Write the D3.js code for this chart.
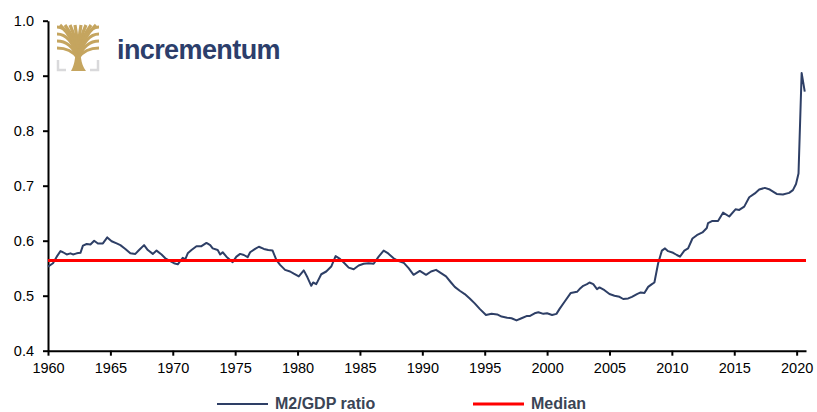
<!DOCTYPE html>
<html>
<head>
<meta charset="utf-8">
<script src="https://cdn.jsdelivr.net/npm/d3@7/dist/d3.min.js"></script>
<style>
  body { margin: 0; background: #fff; }
  svg text { font-family: "Liberation Sans", Arial, sans-serif; }
</style>
</head>
<body>
<script>
// Data (decimal years)
const dates = [
  1960.0, 1960.4, 1960.7, 1961.0, 1961.2, 1961.5, 1961.8, 1962.0, 1962.3, 1962.6,
  1962.8, 1963.1, 1963.4, 1963.7, 1964.0, 1964.4, 1964.75, 1965.1, 1965.5, 1965.8,
  1966.2, 1966.6, 1967.0, 1967.3, 1967.7, 1968.0, 1968.4, 1968.7, 1969.1, 1969.4,
  1969.8, 1970.1, 1970.4, 1970.8, 1971.0, 1971.2, 1971.5, 1971.9, 1972.3, 1972.7,
  1973.0, 1973.2, 1973.6, 1973.8, 1974.0, 1974.3, 1974.8, 1975.1, 1975.4, 1975.7,
  1976.0, 1976.2, 1976.6, 1976.9, 1977.3, 1977.65, 1978.0, 1978.3, 1978.6, 1979.0,
  1979.4, 1979.7, 1980.1, 1980.5, 1980.8, 1981.1, 1981.25, 1981.5, 1981.9, 1982.3,
  1982.7, 1983.05, 1983.4, 1983.8, 1984.1, 1984.5, 1984.9, 1985.3, 1985.7, 1986.1,
  1986.5, 1986.9, 1987.2, 1987.7, 1988.1, 1988.5, 1988.9, 1989.3, 1989.8, 1990.3,
  1990.7, 1991.1, 1991.5, 1991.9, 1992.3, 1992.6, 1993.0, 1993.4, 1993.8, 1994.2,
  1994.6, 1995.1, 1995.55, 1996.0, 1996.35, 1996.8, 1997.15, 1997.55, 1997.95, 1998.35,
  1998.6, 1999.0, 1999.3, 1999.7, 2000.0, 2000.4, 2000.75, 2001.0, 2001.4, 2001.9,
  2002.4, 2002.6, 2002.9, 2003.2, 2003.4, 2003.7, 2004.0, 2004.2, 2004.6, 2005.0,
  2005.4, 2005.8, 2006.1, 2006.5, 2006.8, 2007.2, 2007.5, 2007.8, 2008.1, 2008.4,
  2008.6, 2008.9, 2009.2, 2009.45, 2009.7, 2010.1, 2010.4, 2010.65, 2011.0, 2011.3,
  2011.65, 2012.0, 2012.45, 2012.8, 2012.9, 2013.25, 2013.7, 2014.1, 2014.6, 2015.1,
  2015.4, 2015.8, 2016.2, 2016.65, 2017.0, 2017.45, 2017.85, 2018.4, 2018.9, 2019.4,
  2019.7, 2019.95, 2020.15, 2020.4, 2020.65
];

const m2gdp = [
  0.553, 0.559, 0.571, 0.581, 0.579, 0.575, 0.577, 0.575, 0.577, 0.578,
  0.591, 0.594, 0.593, 0.600, 0.595, 0.595, 0.606, 0.599, 0.595, 0.592,
  0.585, 0.577, 0.576, 0.583, 0.592, 0.583, 0.576, 0.582, 0.575, 0.568,
  0.563, 0.559, 0.557, 0.569, 0.566, 0.577, 0.583, 0.590, 0.590, 0.596,
  0.592, 0.586, 0.583, 0.575, 0.579, 0.571, 0.561, 0.571, 0.576, 0.574,
  0.570, 0.579, 0.585, 0.589, 0.585, 0.583, 0.582, 0.565, 0.556, 0.547,
  0.544, 0.540, 0.535, 0.546, 0.533, 0.518, 0.524, 0.521, 0.539, 0.544,
  0.553, 0.572, 0.567, 0.558, 0.551, 0.548, 0.555, 0.558, 0.559, 0.558,
  0.571, 0.582, 0.578, 0.568, 0.563, 0.560, 0.550, 0.538, 0.545, 0.538,
  0.544, 0.547, 0.541, 0.535, 0.524, 0.516, 0.509, 0.503, 0.495, 0.486,
  0.476, 0.465, 0.467, 0.466, 0.462, 0.460, 0.459, 0.455, 0.459, 0.463,
  0.463, 0.468, 0.470, 0.467, 0.468, 0.465, 0.467, 0.476, 0.489, 0.505,
  0.507, 0.512, 0.518, 0.521, 0.524, 0.521, 0.512, 0.515, 0.510, 0.503,
  0.500, 0.498, 0.494, 0.495, 0.498, 0.503, 0.506, 0.505, 0.516, 0.521,
  0.524, 0.559, 0.582, 0.586, 0.581, 0.578, 0.574, 0.571, 0.582, 0.586,
  0.604, 0.610, 0.615, 0.623, 0.632, 0.636, 0.636, 0.651, 0.644, 0.657,
  0.656, 0.662, 0.679, 0.686, 0.693, 0.696, 0.693, 0.685, 0.684, 0.687,
  0.692, 0.703, 0.722, 0.905, 0.871
];

const median = 0.564;
const seriesNames = ["M2/GDP ratio", "Median"];
const xTicks = [1960, 1965, 1970, 1975, 1980, 1985, 1990, 1995, 2000, 2005, 2010, 2015, 2020];
const yTicks = [0.4, 0.5, 0.6, 0.7, 0.8, 0.9, 1.0];

// Dimensions
const width = 817;
const height = 412;
const margin = { top: 20.7, right: 11, bottom: 61.3, left: 48 };
const navy = "#2e3f66";
const red = "#ff0000";

const svg = d3.select("body")
  .append("svg")
  .attr("width", width)
  .attr("height", height);

// Scales
const x = d3.scaleLinear()
  .domain([1960, 2020.75])
  .range([margin.left, width - margin.right]);

const y = d3.scaleLinear()
  .domain([0.4, 1.0])
  .range([height - margin.bottom, margin.top]);

// Axes
const xAxis = svg.append("g")
  .attr("transform", `translate(0,${height - margin.bottom})`)
  .call(d3.axisBottom(x).tickValues(xTicks).tickFormat(d3.format("d")).tickSize(5).tickPadding(7).tickSizeOuter(0));

const yAxis = svg.append("g")
  .attr("transform", `translate(${margin.left},0)`)
  .call(d3.axisLeft(y).tickValues(yTicks).tickFormat(d3.format(".1f")).tickSize(5).tickPadding(9).tickSizeOuter(0));

[xAxis, yAxis].forEach(g => {
  g.select(".domain").attr("stroke", "#000").attr("stroke-width", 2);
  g.selectAll(".tick line").attr("stroke", "#000").attr("stroke-width", 2);
  g.selectAll(".tick text").attr("fill", "#000").style("font-size", "14.5px");
});

// Series line
const points = dates.map((d, i) => [d, m2gdp[i]]);
const line = d3.line()
  .x(d => x(d[0]))
  .y(d => y(d[1]));

svg.append("path")
  .datum(points)
  .attr("fill", "none")
  .attr("stroke", navy)
  .attr("stroke-width", 2)
  .attr("stroke-linejoin", "round")
  .attr("d", line);

// Median line
svg.append("line")
  .attr("x1", x(1960))
  .attr("x2", x(2020.75))
  .attr("y1", y(median))
  .attr("y2", y(median))
  .attr("stroke", red)
  .attr("stroke-width", 3);

// Legend
const legend = svg.append("g");
const legendX = [217, 473];
const legendColors = [navy, red];
seriesNames.forEach((name, i) => {
  legend.append("line")
    .attr("x1", legendX[i]).attr("x2", legendX[i] + 51)
    .attr("y1", 404).attr("y2", 404)
    .attr("stroke", legendColors[i])
    .attr("stroke-width", i === 0 ? 2 : 3);
  legend.append("text")
    .attr("x", legendX[i] + 58)
    .attr("y", 409)
    .attr("fill", "#3a4455")
    .style("font-size", "16px")
    .style("font-weight", "bold")
    .text(name);
});

// Logo
const logo = svg.append("g");
const gold = "#c5a55f";
logo.append("path")
  .attr("d", "M71,71 Q74,66 75,58 L76,50 L80,50 L81,58 Q82,66 86,71 Z")
  .attr("fill", gold);
const topEnds = [60, 65, 70, 75, 81, 86, 91, 96];
topEnds.forEach(bx => {
  logo.append("path")
    .attr("d", `M78,55 Q${78 + (bx - 78) * 0.25},38 ${bx},25`)
    .attr("fill", "none").attr("stroke", gold)
    .attr("stroke-width", 3.2).attr("stroke-linecap", "butt");
});
const sideEnds = [[57,27],[57,34],[57,41],[57,48],[99,27],[99,34],[99,41],[99,48]];
sideEnds.forEach(([bx, by]) => {
  logo.append("path")
    .attr("d", `M78,58 Q${78 + (bx - 78) * 0.35},${by} ${bx},${by}`)
    .attr("fill", "none").attr("stroke", gold)
    .attr("stroke-width", 3.2).attr("stroke-linecap", "butt");
});
logo.append("path")
  .attr("d", "M58,60 V70 H66 M98,60 V70 H90")
  .attr("fill", "none")
  .attr("stroke", "#d9d9db")
  .attr("stroke-width", 2.5);
logo.append("text")
  .attr("x", 117)
  .attr("y", 59)
  .attr("fill", "#2c3e6b")
  .style("font-size", "27px")
  .style("font-weight", "bold")
  .style("letter-spacing", "-0.6px")
  .text("incrementum");
</script>
</body>
</html>
